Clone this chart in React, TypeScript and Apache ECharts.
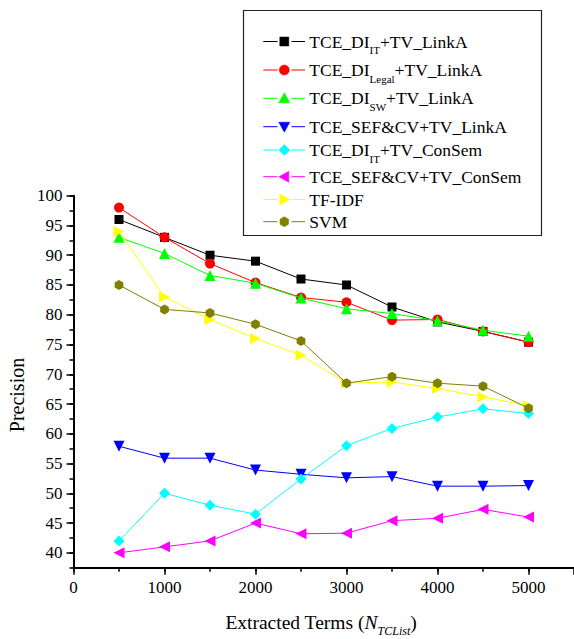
import React, { useEffect, useRef } from "react";
import * as echarts from "echarts";

const FONT = "Liberation Serif, Times New Roman, serif";

const X_VALUES = [500, 1000, 1500, 2000, 2500, 3000, 3500, 4000, 4500, 5000];

const TCE_DI_IT_LINKA = [96, 93, 90, 89, 86, 85, 81.3, 78.8, 77.2, 75.4];
const TCE_DI_LEGAL_LINKA = [98, 93, 88.6, 85.4, 82.9, 82.1, 79.1, 79.2, 77.2, 75.4];
const TCE_DI_SW_LINKA = [93, 90.3, 86.6, 85.3, 82.8, 81.0, 80.2, 79.0, 77.4, 76.4];
const TCE_SEFCV_LINKA = [57.9, 55.9, 55.9, 53.9, 53.2, 52.6, 52.8, 51.2, 51.2, 51.3];
const TCE_DI_IT_CONSEM = [42, 50, 48, 46.5, 52.4, 58, 60.9, 62.8, 64.2, 63.4];
const TCE_SEFCV_CONSEM = [40, 41, 42, 45, 43.2, 43.3, 45.4, 45.8, 47.3, 46];
const TF_IDF = [94, 83, 79.2, 76, 73.2, 68.5, 68.7, 67.6, 66.2, 64.7];
const SVM = [85, 80.9, 80.3, 78.4, 75.6, 68.5, 69.6, 68.5, 68.0, 64.3];

const SERIES_NAMES = [
  "TCE_DI_IT+TV_LinkA",
  "TCE_DI_Legal+TV_LinkA",
  "TCE_DI_SW+TV_LinkA",
  "TCE_SEF&CV+TV_LinkA",
  "TCE_DI_IT+TV_ConSem",
  "TCE_SEF&CV+TV_ConSem",
  "TF-IDF",
  "SVM",
];

const LEGEND_LABELS = [
  "{m|TCE_DI}{s|IT}{m|+TV_LinkA}",
  "{m|TCE_DI}{s|Legal}{m|+TV_LinkA}",
  "{m|TCE_DI}{s|SW}{m|+TV_LinkA}",
  "{m|TCE_SEF&CV+TV_LinkA}",
  "{m|TCE_DI}{s|IT}{m|+TV_ConSem}",
  "{m|TCE_SEF&CV+TV_ConSem}",
  "{m|TF-IDF}",
  "{m|SVM}",
];

const SERIES_VALUES = [
  TCE_DI_IT_LINKA,
  TCE_DI_LEGAL_LINKA,
  TCE_DI_SW_LINKA,
  TCE_SEFCV_LINKA,
  TCE_DI_IT_CONSEM,
  TCE_SEFCV_CONSEM,
  TF_IDF,
  SVM,
];

const SERIES_COLORS = ["#000000", "#FF0000", "#00FF00", "#0000FF", "#00FFFF", "#FF00FF", "#FFFF00", "#808000"];
const SERIES_MARKERS = ["square", "circle", "up", "down", "diamond", "left", "right", "hexagon"];

const X_TICK_LABELS = [0, 1000, 2000, 3000, 4000, 5000];
const Y_TICK_LABELS = [40, 45, 50, 55, 60, 65, 70, 75, 80, 85, 90, 95, 100];

const HEX_PATH = "path://M0,-10L8.66,-5L8.66,5L0,10L-8.66,5L-8.66,-5Z";

function seriesSymbol(kind: string) {
  switch (kind) {
    case "square":
      return { symbol: "rect", symbolSize: 9, symbolRotate: 0 };
    case "circle":
      return { symbol: "circle", symbolSize: 10, symbolRotate: 0 };
    case "up":
      return { symbol: "triangle", symbolSize: 11, symbolRotate: 0 };
    case "down":
      return { symbol: "triangle", symbolSize: 11, symbolRotate: 180 };
    case "diamond":
      return { symbol: "diamond", symbolSize: 11, symbolRotate: 0 };
    case "left":
      return { symbol: "triangle", symbolSize: 11, symbolRotate: 90 };
    case "right":
      return { symbol: "triangle", symbolSize: 11, symbolRotate: -90 };
    default:
      return { symbol: HEX_PATH, symbolSize: 10, symbolRotate: 0 };
  }
}

function legendMarker(kind: string, cx: number, cy: number, color: string): any {
  const r = 5.5;
  const style = { fill: color, stroke: color, lineWidth: 0.5 };
  switch (kind) {
    case "square":
      return { type: "rect", shape: { x: cx - 4.5, y: cy - 4.5, width: 9, height: 9 }, style };
    case "circle":
      return { type: "circle", shape: { cx, cy, r: 5 }, style };
    case "up":
      return { type: "polygon", shape: { points: [[cx, cy - r], [cx + r, cy + 4.5], [cx - r, cy + 4.5]] }, style };
    case "down":
      return { type: "polygon", shape: { points: [[cx, cy + r], [cx + r, cy - 4.5], [cx - r, cy - 4.5]] }, style };
    case "diamond":
      return { type: "polygon", shape: { points: [[cx, cy - r], [cx + r, cy], [cx, cy + r], [cx - r, cy]] }, style };
    case "left":
      return { type: "polygon", shape: { points: [[cx - r, cy], [cx + 4.5, cy - r], [cx + 4.5, cy + r]] }, style };
    case "right":
      return { type: "polygon", shape: { points: [[cx + r, cy], [cx - 4.5, cy - r], [cx - 4.5, cy + r]] }, style };
    default: {
      const pts: number[][] = [];
      for (let i = 0; i < 6; i++) {
        const a = -Math.PI / 2 + (i * Math.PI) / 3;
        pts.push([cx + 5 * Math.cos(a), cy + 5 * Math.sin(a)]);
      }
      return { type: "polygon", shape: { points: pts }, style };
    }
  }
}

export default function App() {
  const ref = useRef<HTMLDivElement>(null);

  useEffect(() => {
    document.body.style.margin = "0";
    if (!ref.current) return;
    const chart = echarts.init(ref.current, undefined, { renderer: "svg" });

    const series = SERIES_NAMES.map((name, i) => {
      const sym = seriesSymbol(SERIES_MARKERS[i]);
      return {
        name,
        type: "line",
        data: X_VALUES.map((x, j) => [x, SERIES_VALUES[i][j]]),
        symbol: sym.symbol,
        symbolSize: sym.symbolSize,
        symbolRotate: sym.symbolRotate,
        symbolKeepAspect: true,
        showAllSymbol: true,
        lineStyle: { color: SERIES_COLORS[i], width: 1 },
        itemStyle: { color: SERIES_COLORS[i] },
        emphasis: { disabled: true },
        z: 2 + i,
      };
    });

    // legend drawn as graphic
    const rowsY = [41.5, 70, 98.3, 126.7, 150, 176.7, 199.5, 221.7];
    const legendEls: any[] = [
      {
        type: "rect",
        shape: { x: 243.5, y: 10.5, width: 298, height: 225 },
        style: { fill: "#fff", stroke: "#222", lineWidth: 1.2 },
      },
    ];
    SERIES_NAMES.forEach((_, i) => {
      const y = rowsY[i];
      const c = SERIES_COLORS[i];
      legendEls.push({ type: "line", shape: { x1: 263.3, y1: y, x2: 277.5, y2: y }, style: { stroke: c, lineWidth: 1 } });
      legendEls.push({ type: "line", shape: { x1: 291.5, y1: y, x2: 305, y2: y }, style: { stroke: c, lineWidth: 1 } });
      legendEls.push(legendMarker(SERIES_MARKERS[i], 284.3, y, c));
      legendEls.push({
        type: "text",
        x: 309.3,
        y,
        style: {
          text: LEGEND_LABELS[i],
          fill: "#000",
          fontFamily: FONT,
          fontSize: 17.5,
          align: "left",
          verticalAlign: "middle",
          rich: {
            m: { fontFamily: FONT, fontSize: 17.5, lineHeight: 28, fill: "#000" },
            s: { fontFamily: FONT, fontSize: 11, verticalAlign: "bottom", fill: "#000" },
          },
        },
      });
    });

    const titleEls: any[] = [
      {
        type: "text",
        x: 17,
        y: 395,
        rotation: Math.PI / 2,
        style: {
          text: "Precision",
          fontFamily: FONT,
          fontSize: 20,
          fill: "#000",
          align: "center",
          verticalAlign: "middle",
        },
      },
      {
        type: "text",
        x: 321,
        y: 622,
        style: {
          text: "{m|Extracted Terms (}{i|N}{is|TCList}{m|)}",
          fontFamily: FONT,
          fontSize: 19.5,
          fill: "#000",
          align: "center",
          verticalAlign: "middle",
          rich: {
            m: { fontFamily: FONT, fontSize: 19.5, lineHeight: 30, fill: "#000" },
            i: { fontFamily: FONT, fontSize: 19.5, lineHeight: 30, fontStyle: "italic", fill: "#000" },
            is: { fontFamily: FONT, fontSize: 12, fontStyle: "italic", verticalAlign: "bottom", fill: "#000" },
          },
        },
      },
    ];

    const axisLabelStyle = { color: "#000", fontSize: 17, fontFamily: FONT };

    chart.setOption({
      animation: false,
      backgroundColor: "#fff",
      textStyle: { fontFamily: FONT },
      grid: { left: 73.5, top: 195.7, width: 502.2, height: 372, containLabel: false },
      xAxis: [
        {
          type: "value",
          position: "bottom",
          min: 0,
          max: 5500,
          interval: 500,
          axisLine: { show: true, onZero: false, lineStyle: { color: "#000", width: 2 } },
          axisTick: { show: true, length: 4, lineStyle: { color: "#000", width: 1.5 } },
          axisLabel: {
            ...axisLabelStyle,
            margin: 11,
            showMaxLabel: false,
            formatter: (v: number) => (X_TICK_LABELS.includes(v) ? String(v) : ""),
          },
          splitLine: { show: false },
        },
        {
          type: "value",
          position: "bottom",
          min: 0,
          max: 5500,
          interval: 1000,
          axisLine: { show: false, onZero: false },
          axisTick: { show: true, length: 7, lineStyle: { color: "#000", width: 1.5 } },
          axisLabel: { show: false },
          splitLine: { show: false },
        },
      ],
      yAxis: [
        {
          type: "value",
          position: "left",
          min: 37.5,
          max: 100,
          interval: 2.5,
          axisLine: { show: true, onZero: false, lineStyle: { color: "#000", width: 2 } },
          axisTick: { show: true, length: 4, lineStyle: { color: "#000", width: 1.5 } },
          axisLabel: {
            ...axisLabelStyle,
            margin: 11,
            formatter: (v: number) => (Y_TICK_LABELS.includes(v) ? String(v) : ""),
          },
          splitLine: { show: false },
        },
        {
          type: "value",
          position: "left",
          min: 37.5,
          max: 100,
          interval: 2.5,
          axisLine: { show: false, onZero: false },
          axisTick: { show: true, length: 7, customValues: Y_TICK_LABELS, lineStyle: { color: "#000", width: 1.5 } },
          axisLabel: { show: false },
          splitLine: { show: false },
        },
      ],
      series,
      graphic: [...legendEls, ...titleEls],
    });

    return () => {
      chart.dispose();
    };
  }, []);

  return <div ref={ref} style={{ width: 574, height: 639 }} />;
}
